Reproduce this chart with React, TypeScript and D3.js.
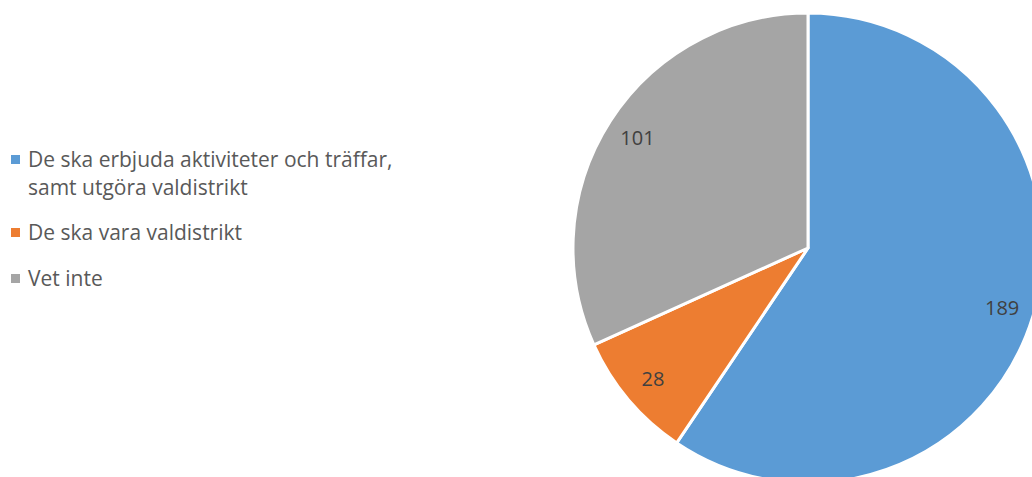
import React from "react";
import * as d3 from "d3";

const categories = [
  "De ska erbjuda aktiviteter och träffar, samt utgöra valdistrikt",
  "De ska vara valdistrikt",
  "Vet inte",
];
const legendLines = [
  ["De ska erbjuda aktiviteter och träffar,", "samt utgöra valdistrikt"],
  ["De ska vara valdistrikt"],
  ["Vet inte"],
];
const values = [189, 28, 101];
const colors = ["#5B9BD5", "#ED7D31", "#A5A5A5"];

const W = 1032;
const H = 477;
const cx = 808;
const cy = 248;
const R = 235;
const labelR = 203;
const FONT = "'Open Sans', 'Liberation Sans', sans-serif";

export default function App() {
  const pie = d3
    .pie<number>()
    .sort(null)
    .startAngle(0)
    .endAngle(2 * Math.PI)(values);
  const arc = d3.arc<d3.PieArcDatum<number>>().innerRadius(0).outerRadius(R);
  const labelArc = d3
    .arc<d3.PieArcDatum<number>>()
    .innerRadius(labelR)
    .outerRadius(labelR);

  const legendY = [167, 240, 286];

  return (
    <svg
      width={W}
      height={H}
      style={{ position: "absolute", left: 0, top: 0, display: "block" }}
      fontFamily={FONT}
    >
      <rect width={W} height={H} fill="#fff" />
      <g transform={`translate(${cx},${cy})`}>
        {pie.map((d, i) => (
          <path
            key={i}
            d={arc(d) || ""}
            fill={colors[i]}
            stroke="#fff"
            strokeWidth={3}
            strokeLinejoin="round"
          />
        ))}
        {pie.map((d, i) => {
          const [x, y] = labelArc.centroid(d);
          return (
            <text
              key={i}
              x={x}
              y={y}
              textAnchor="middle"
              dominantBaseline="central"
              fontSize={20}
              fill="#404040"
            >
              {values[i]}
            </text>
          );
        })}
      </g>
      <g>
        {categories.map((c, i) => (
          <g key={c}>
            <rect
              x={11}
              y={legendY[i] - 12}
              width={9}
              height={9}
              fill={colors[i]}
            />
            {legendLines[i].map((ln, j) => (
              <text
                key={j}
                x={28}
                y={legendY[i] + j * 28}
                fontSize={21}
                fill="#595959"
              >
                {ln}
              </text>
            ))}
          </g>
        ))}
      </g>
    </svg>
  );
}
